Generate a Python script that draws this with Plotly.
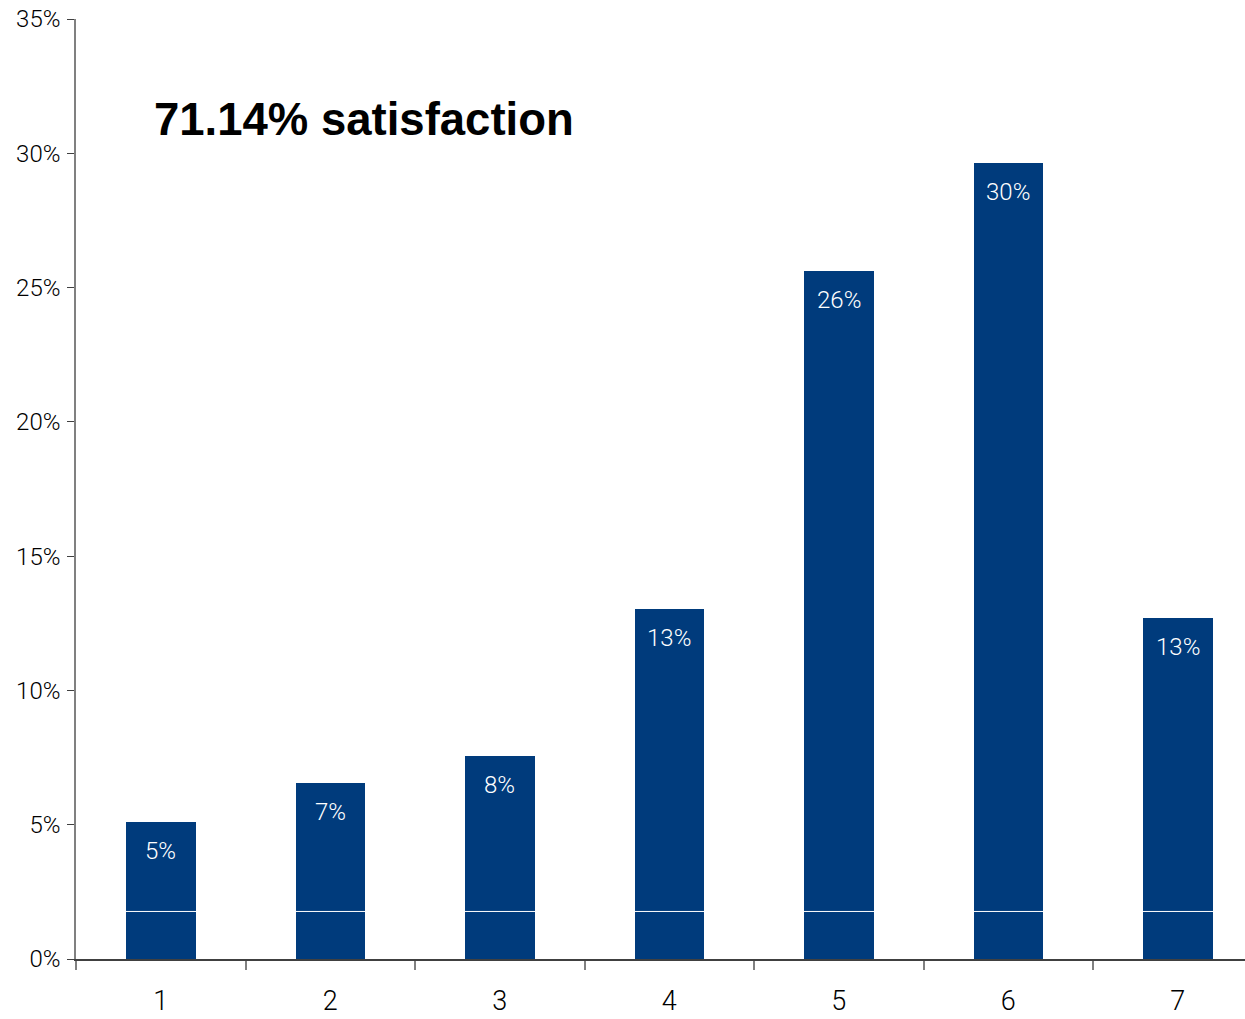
import plotly.graph_objects as go

# Satisfaction score distribution (share of respondents per score)
scores = ["1", "2", "3", "4", "5", "6", "7"]
shares = [5.10, 6.55, 7.56, 13.03, 25.61, 29.63, 12.70]
bar_labels = ["5%", "7%", "8%", "13%", "26%", "30%", "13%"]
y_ticks = [0, 5, 10, 15, 20, 25, 30, 35]
y_tick_text = ["0%", "5%", "10%", "15%", "20%", "25%", "30%", "35%"]
headline = "71.14% satisfaction"
divider_level = 1.77

BAR_COLOR = "#003b7c"
LABEL_FONT = "Roboto, sans-serif"

fig = go.Figure()
fig.add_trace(go.Bar(
    x=scores,
    y=shares,
    width=0.41,
    marker=dict(color=BAR_COLOR, line=dict(width=0)),
    hoverinfo="skip",
))

# Value labels inside the top of each bar (category index as x position)
for i, (v, t) in enumerate(zip(shares, bar_labels)):
    fig.add_annotation(
        x=i, y=v, xref="x", yref="y",
        text=t, showarrow=False,
        yanchor="top", yshift=-13,
        font=dict(family=LABEL_FONT, size=24, color="white", weight=300),
    )

# Thin white divider running through the base of the bars
fig.add_shape(
    type="line", xref="paper", yref="y",
    x0=0, x1=1, y0=divider_level, y1=divider_level,
    line=dict(color="white", width=1), layer="above",
)

fig.add_annotation(
    x=0.0650, y=0.8926, xref="paper", yref="paper",
    text=f"<b>{headline}</b>", showarrow=False,
    xanchor="left", yanchor="middle",
    font=dict(family="Liberation Sans, Arial, sans-serif", size=45.5, color="black"),
)

fig.update_layout(
    width=1245, height=1019,
    margin=dict(l=76, r=0, t=19, b=60),
    paper_bgcolor="white", plot_bgcolor="white",
    showlegend=False,
    bargap=0,
)
fig.update_xaxes(
    type="category",
    range=[-0.5, -0.5 + 1169 / 169.5],
    tickson="boundaries",
    ticks="outside", ticklen=9, tickwidth=1.5, tickcolor="#808080",
    ticklabelstandoff=17,
    automargin=False,
    showline=True, linecolor="#404040", linewidth=1.5,
    showgrid=False, zeroline=False,
    tickfont=dict(family=LABEL_FONT, size=27, color="black", weight=300),
)
fig.update_yaxes(
    range=[0, 35],
    tickvals=y_ticks, ticktext=y_tick_text,
    ticks="outside", ticklen=7, tickwidth=1.2, tickcolor="#404040",
    ticklabelstandoff=2,
    automargin=False,
    showline=True, linecolor="#808080", linewidth=1.5,
    showgrid=False, zeroline=False,
    tickfont=dict(family=LABEL_FONT, size=24, color="black", weight=300),
)

fig.write_html("out.html")
